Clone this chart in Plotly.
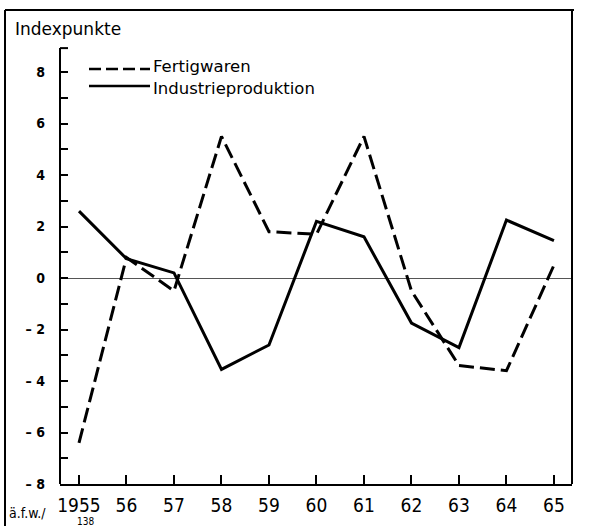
import plotly.graph_objects as go

# data (Indexpunkte)
years = [1955, 1956, 1957, 1958, 1959, 1960, 1961, 1962, 1963, 1964, 1965]
fertigwaren = [-6.4, 0.8, -0.5, 5.5, 1.8, 1.7, 5.5, -0.5, -3.4, -3.6, 0.5]
industrie = [2.6, 0.75, 0.2, -3.55, -2.6, 2.2, 1.6, -1.75, -2.7, 2.25, 1.45]

x_tick_labels = ["1955", "56", "57", "58", "59", "60", "61", "62", "63", "64", "65"]
y_ticks = list(range(-8, 9))
y_tick_labels = [("" if v % 2 else "<b>" + ("– " + str(-v) if v < 0 else str(v)) + "</b>")
                 for v in y_ticks]

FONT = "Liberation Sans Narrow, DejaVu Sans Condensed, sans-serif"
W, H = 589, 526
L, R, T, B = 60, 17, 10, 42
PW, PH = W - L - R, H - T - B


def px(x):
    return (x - L) / PW


def py(y):
    return (H - B - y) / PH


fig = go.Figure()

fig.add_trace(go.Scatter(
    x=years, y=fertigwaren, mode="lines", name="Fertigwaren",
    line={"color": "black", "width": 3, "dash": "15px,6px"},
    showlegend=False,
))
fig.add_trace(go.Scatter(
    x=years, y=industrie, mode="lines", name="Industrieproduktion",
    line={"color": "black", "width": 3},
    showlegend=False,
))

shapes = [
    # left axis with top bracket
    dict(type="line", xref="paper", yref="y", x0=0, x1=0, y0=-8, y1=8.93,
         line={"color": "black", "width": 2}),
    dict(type="line", xref="paper", yref="y", x0=0, x1=px(68), y0=8.93, y1=8.93,
         line={"color": "black", "width": 2}),
    # outer frame
    dict(type="line", xref="paper", yref="paper", x0=px(5), x1=px(574), y0=1, y1=1,
         line={"color": "black", "width": 2}),
    dict(type="line", xref="paper", yref="paper", x0=1, x1=1, y0=0, y1=1,
         line={"color": "black", "width": 2}),
    dict(type="line", xref="paper", yref="paper", x0=px(5), x1=px(5), y0=py(526), y1=1,
         line={"color": "black", "width": 2}),
    # legend samples
    dict(type="line", xref="paper", yref="paper", x0=px(89), x1=px(150), y0=py(69), y1=py(69),
         line={"color": "black", "width": 2.5, "dash": "12px,5px"}),
    dict(type="line", xref="paper", yref="paper", x0=px(89), x1=px(150), y0=py(86), y1=py(86),
         line={"color": "black", "width": 2.5}),
]

annotations = [
    dict(text="Indexpunkte", x=px(13), y=py(29), xref="paper", yref="paper",
         xanchor="left", yanchor="middle", showarrow=False,
         font={"family": "DejaVu Sans, sans-serif", "size": 17, "color": "black"}),
    dict(text="Fertigwaren", x=px(151), y=py(67), xref="paper", yref="paper",
         xanchor="left", yanchor="middle", showarrow=False,
         font={"family": "DejaVu Sans, sans-serif", "size": 16.5, "color": "black"}),
    dict(text="Industrieproduktion", x=px(151), y=py(88), xref="paper", yref="paper",
         xanchor="left", yanchor="middle", showarrow=False,
         font={"family": "DejaVu Sans, sans-serif", "size": 16.5, "color": "black"}),
    dict(text="ä.f.w./", x=px(7), y=py(513), xref="paper", yref="paper",
         xanchor="left", yanchor="middle", showarrow=False,
         font={"family": "DejaVu Sans Condensed, sans-serif", "size": 14, "color": "black"}),
    dict(text="138", x=px(75), y=py(521), xref="paper", yref="paper",
         xanchor="left", yanchor="middle", showarrow=False,
         font={"family": "DejaVu Sans Condensed, sans-serif", "size": 10, "color": "black"}),
]

fig.update_layout(
    width=W, height=H,
    margin={"l": L, "r": R, "t": T, "b": B, "pad": 0},
    plot_bgcolor="white", paper_bgcolor="white",
    showlegend=False,
    shapes=shapes, annotations=annotations,
    xaxis={
        "range": [1954.6, 1965.38],
        "tickvals": years, "ticktext": x_tick_labels,
        "ticks": "inside", "ticklen": 9, "tickwidth": 2, "tickcolor": "black",
        "showline": True, "linecolor": "black", "linewidth": 2,
        "showgrid": False, "zeroline": False,
        "ticklabelstandoff": 3,
        "tickfont": {"family": FONT, "size": 19, "color": "black"},
    },
    yaxis={
        "range": [-8, 10.41],
        "tickvals": y_ticks, "ticktext": y_tick_labels,
        "ticks": "inside", "ticklen": 8, "tickwidth": 2, "tickcolor": "black",
        "showline": False, "showgrid": False,
        "zeroline": True, "zerolinecolor": "#555", "zerolinewidth": 1,
        "ticklabelstandoff": 14,
        "tickfont": {"family": "DejaVu Sans Condensed, sans-serif", "size": 14, "color": "black"},
    },
)

# the page's default body margin would shift the chart by 8px
fig.write_html("out.html", config={"displayModeBar": False},
               post_script="document.body.style.margin = '0';")
